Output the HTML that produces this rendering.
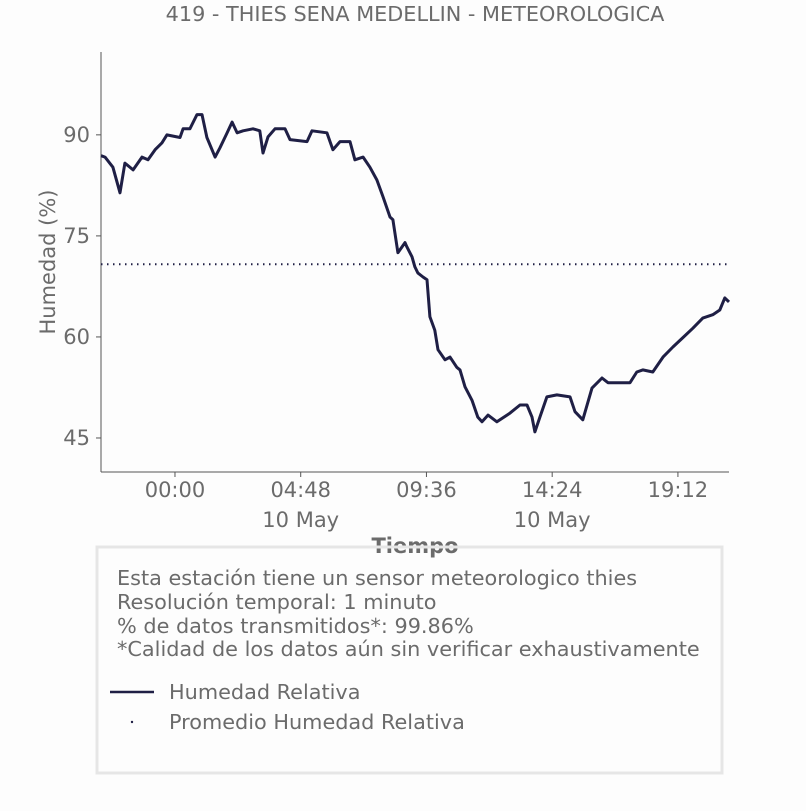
<!DOCTYPE html>
<html><head><meta charset="utf-8"><style>
body{margin:0;background:#fdfdfd;font-family:"Liberation Sans","DejaVu Sans",sans-serif;}
svg text{font-family:"DejaVu Sans","Liberation Sans",sans-serif;fill:#6b6b6b;}
</style></head><body>
<svg id="chart" width="806" height="806" xmlns="http://www.w3.org/2000/svg">
<rect width="806" height="806" fill="#fdfdfd"/>
<text x="415" y="21" text-anchor="middle" font-size="20.8">419 - THIES SENA MEDELLIN - METEOROLOGICA</text>
<g id="axes"></g>
<g id="marks"></g>
<text x="415" y="553" text-anchor="middle" font-size="21" font-weight="bold">Tiempo</text>
<text transform="translate(55,262) rotate(-90)" text-anchor="middle" font-size="21">Humedad (%)</text>
<rect x="97" y="547" width="625" height="226" fill="none" stroke="#e6e6e6" stroke-width="3"/>
<g font-size="20.8">
<text x="117" y="585">Esta estación tiene un sensor meteorologico thies</text>
<text x="117" y="609">Resolución temporal: 1 minuto</text>
<text x="117" y="633">% de datos transmitidos*: 99.86%</text>
<text x="117" y="656">*Calidad de los datos aún sin verificar exhaustivamente</text>
</g>
<g>
<line x1="110" y1="692" x2="154" y2="692" stroke="#1f1f45" stroke-width="2.5"/>
<text x="169" y="699" font-size="20.8">Humedad Relativa</text>
</g>
<g>
<circle cx="132" cy="722" r="1.2" fill="#1f1f45"/>
<text x="169" y="729" font-size="20.8">Promedio Humedad Relativa</text>
</g>
</svg>
<script>
const hours=[-2.82,-2.67,-2.37,-2.10,-1.91,-1.60,-1.26,-1.03,-0.76,-0.50,-0.31,0.19,0.31,0.57,0.84,1.03,1.22,1.53,1.72,1.98,2.18,2.37,2.60,2.98,3.24,3.36,3.55,3.82,4.20,4.39,5.04,5.23,5.80,6.03,6.30,6.68,6.87,7.18,7.44,7.71,7.94,8.21,8.32,8.51,8.78,8.85,9.05,9.16,9.27,9.47,9.62,9.73,9.92,10.04,10.31,10.50,10.76,10.88,11.07,11.34,11.56,11.72,11.95,12.29,12.79,13.17,13.44,13.63,13.74,13.93,14.20,14.58,15.08,15.27,15.57,15.92,16.30,16.53,17.37,17.63,17.86,18.24,18.63,19.01,19.39,19.77,20.15,20.53,20.80,20.99,21.15];
const humidity=[86.9,86.7,85.2,81.4,85.8,84.8,86.7,86.3,87.8,88.8,90.0,89.6,90.9,90.9,93.0,93.0,89.6,86.7,88.1,90.2,91.9,90.3,90.6,90.9,90.6,87.3,89.7,90.9,90.9,89.3,89.0,90.6,90.3,87.8,89.0,89.0,86.3,86.7,85.2,83.3,80.8,77.8,77.4,72.5,74.0,73.4,71.9,70.4,69.5,68.9,68.5,63.0,61.0,58.1,56.6,57.0,55.5,55.1,52.6,50.6,48.1,47.4,48.4,47.4,48.7,49.9,49.9,48.1,45.9,48.1,51.1,51.4,51.1,48.9,47.7,52.4,53.9,53.2,53.2,54.8,55.1,54.8,57.0,58.5,59.9,61.3,62.8,63.3,64.0,65.8,65.2];
const meanValue=[70.8];
const yTicks=[45,60,75,90];
const xTickHours=[0,4.8,9.6,14.4,19.2];
const xTickLabels=["00:00","04:48","09:36","14:24","19:12"];
const xDateLabels=["","10 May","","10 May",""];
const L=101,R=729,T=52,B=472;
const xMin=-2.824,xMax=21.15,yMin=39.95,yMax=102.3;
const X=h=>L+(h-xMin)/(xMax-xMin)*(R-L);
const Y=v=>B-(v-yMin)/(yMax-yMin)*(B-T);
const NS="http://www.w3.org/2000/svg";
const axes=document.getElementById('axes'),marks=document.getElementById('marks');
function mk(tag,attrs,parent){const e=document.createElementNS(NS,tag);for(const k in attrs)e.setAttribute(k,attrs[k]);parent.appendChild(e);return e;}
const ya=mk('line',{x1:L,y1:T,x2:L,y2:B,stroke:'#555','stroke-width':1},axes);


const xa=mk('line',{x1:L,y1:B,x2:R,y2:B,stroke:'#555','stroke-width':1},axes);


yTicks.forEach(v=>{
  const t=mk('line',{x1:L-5,y1:Y(v),x2:L,y2:Y(v),stroke:'#555'},axes);
  
  
  const tx=mk('text',{x:L-11,y:Y(v)+7,'text-anchor':'end','font-size':21},axes);
  tx.textContent=v;
  
  
});
xTickHours.forEach((h,i)=>{
  const t=mk('line',{x1:X(h),y1:B,x2:X(h),y2:B+5,stroke:'#555'},axes);
  
  
  const tx=mk('text',{x:X(h),y:B+25,'text-anchor':'middle','font-size':21},axes);
  tx.textContent=xTickLabels[i];
  
  
  if(xDateLabels[i]){
    const d=mk('text',{x:X(h),y:B+55,'text-anchor':'middle','font-size':21},axes);
    d.textContent=xDateLabels[i];
    
    
  }
});
const m=mk('line',{x1:L,y1:Y(meanValue[0]),x2:R,y2:Y(meanValue[0]),stroke:'#1f1f45','stroke-width':2,'stroke-dasharray':'1.5,4.5'},marks);


const pts=hours.map((h,i)=>X(h).toFixed(1)+','+Y(humidity[i]).toFixed(1)).join(' ');
const p=mk('polyline',{points:pts,fill:'none',stroke:'#1f1f45','stroke-width':3,'stroke-linejoin':'round'},marks);


</script>
</body></html>
